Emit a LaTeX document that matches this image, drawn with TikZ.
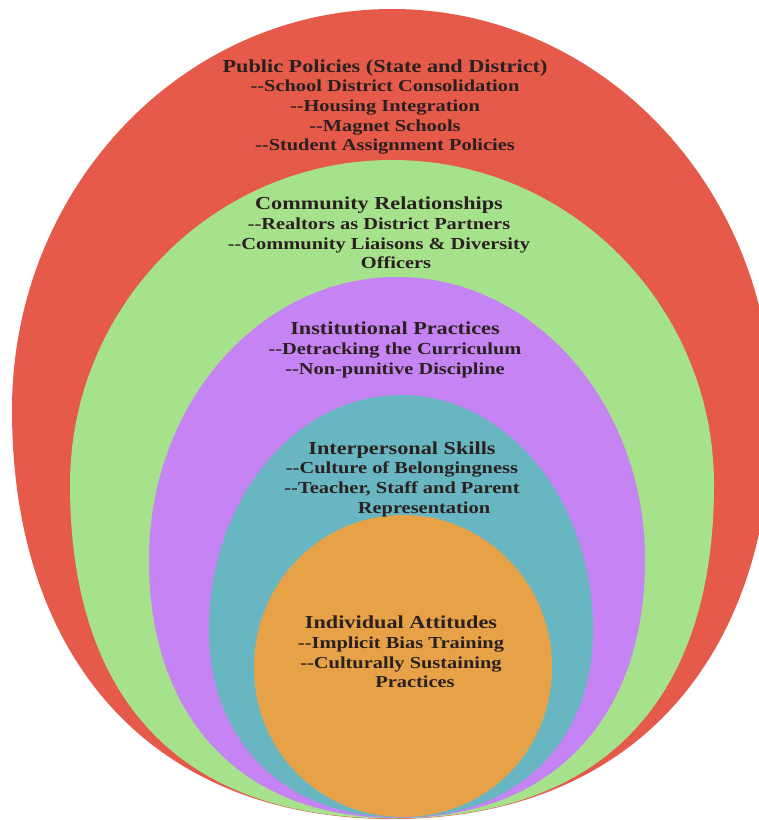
\documentclass[tikz,border=0pt]{standalone}
\usepackage{fontspec}
\setmainfont[FakeStretch=1.215]{Liberation Serif}
\definecolor{layerPolicy}{HTML}{E65A49}
\definecolor{layerCommunity}{HTML}{A6E18C}
\definecolor{layerInstitution}{HTML}{C583F4}
\definecolor{layerPerson}{HTML}{68B6C2}
\definecolor{layerSelf}{HTML}{E7A247}
\definecolor{layerText}{HTML}{2A2020}
\tikzset{
  layerlabel/.style={align=center, text=layerText, inner sep=0pt,
    font=\bfseries\fontsize{16.8}{19.7}\selectfont},
}
\newcommand{\layertitle}[1]{{\fontsize{18.3}{19.7}\selectfont #1}}
% egg shaped layer: colour, centre x, widest y, half width, top, bottom, bottom fullness
\newcommand{\eggshape}[7]{%
  \fill[#1] ({#2-#4},#3)
    .. controls ({#2-#4},{#3-0.5523*(#3-#5)}) and ({#2-0.5523*#4},#5) .. (#2,#5)
    .. controls ({#2+0.5523*#4},#5) and ({#2+#4},{#3-0.5523*(#3-#5)}) .. ({#2+#4},#3)
    .. controls ({#2+#4},{#3+#7*(#6-#3)}) and ({#2+#7*#4},#6) .. (#2,#6)
    .. controls ({#2-#7*#4},#6) and ({#2-#4},{#3+#7*(#6-#3)}) .. cycle;}

\begin{document}
\begin{tikzpicture}[x=1pt, y=-1pt]
  \clip (0,0) rectangle (759,820);
  \fill[white] (0,0) rectangle (759,820);

  \eggshape{layerPolicy}{392}{410}{380}{9}{819}{0.62}
  \eggshape{layerCommunity}{392}{485}{322}{160}{818.5}{0.65}
  \eggshape{layerInstitution}{397}{560}{248}{277}{818}{0.62}
  \eggshape{layerPerson}{401}{630}{192}{395}{817.5}{0.6}
  \eggshape{layerSelf}{403}{667}{149}{515}{817}{0.56}

  \node[layerlabel] (policies) at (385,107) {\layertitle{Public Policies (State and District)}\\
    -{}-School District Consolidation\\ -{}-Housing Integration\\
    -{}-Magnet Schools\\ -{}-Student Assignment Policies};
  \node[layerlabel] (community) at (379,233) {\layertitle{Community Relationships}\\
    -{}-Realtors as District Partners\\ -{}-Community Liaisons \& Diversity\\
    \hspace*{34pt}Officers};
  \node[layerlabel] (institutional) at (395,350) {\layertitle{Institutional Practices}\\
    -{}-Detracking the Curriculum\\ -{}-Non-punitive Discipline};
  \node[layerlabel] (interpersonal) at (402,479) {\layertitle{Interpersonal Skills}\\
    -{}-Culture of Belongingness\\ -{}-Teacher, Staff and Parent\\
    \hspace*{44pt}Representation};
  \node[layerlabel] (individual) at (401,652) {\layertitle{Individual Attitudes}\\
    -{}-Implicit Bias Training\\ -{}-Culturally Sustaining\\
    \hspace*{28pt}Practices};
\end{tikzpicture}
\end{document}
